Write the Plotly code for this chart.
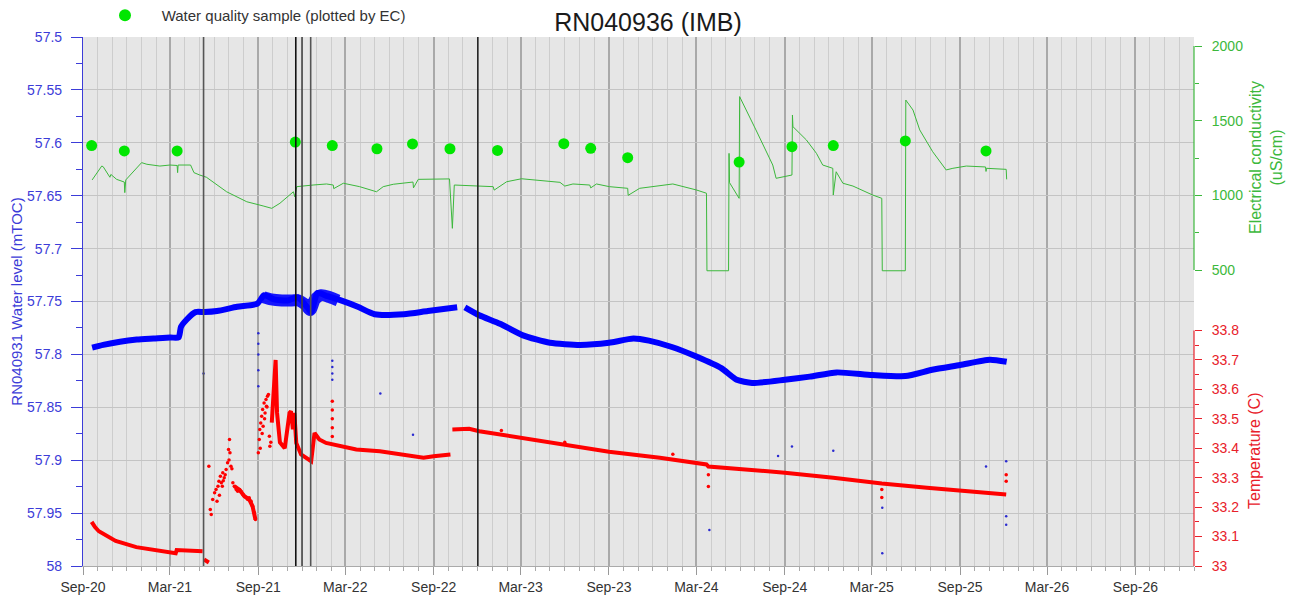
import plotly.graph_objects as go

# ---------------- data ----------------
# Water level (left axis, mTOC) - centre of the logged band
wl_dates = ["2020-09-20", "2020-10-13", "2020-11-17", "2020-12-22", "2021-01-26", "2021-03-02",
            "2021-03-19", "2021-03-24", "2021-04-05", "2021-04-23", "2021-05-12", "2021-06-07",
            "2021-07-19", "2021-08-30", "2021-09-13", "2021-10-04", "2021-11-01", "2021-11-22",
            "2021-12-13", "2021-12-20", "2022-01-02", "2022-01-23", "2022-02-20", "2022-03-27",
            "2022-05-01", "2022-07-01", "2022-08-20", "2022-10-20", "2022-10-28", "2022-11-05",
            "2022-12-05", "2023-01-17", "2023-03-06", "2023-05-01", "2023-07-03", "2023-09-01",
            "2023-10-22", "2023-11-23", "2024-01-10", "2024-03-01", "2024-04-22", "2024-05-24",
            "2024-06-25", "2024-09-01", "2024-10-23", "2024-12-18", "2025-03-02", "2025-05-10",
            "2025-07-05", "2025-09-01", "2025-11-02", "2025-12-07"]
wl_values = [57.7936, 57.791, 57.788, 57.786, 57.785, 57.784,
             57.784, 57.774, 57.767, 57.760, 57.760, 57.759,
             57.755, 57.752, 57.744, 57.748, 57.749, 57.746,
             57.756, 57.760, 57.742, 57.745, 57.749, 57.755,
             57.762, 57.762, 57.759, 57.7555, None, 57.7555,
             57.763, 57.771, 57.782, 57.789, 57.791, 57.789,
             57.785, 57.787, 57.793, 57.802, 57.813, 57.824,
             57.827, 57.824, 57.821, 57.817, 57.8195, 57.8205,
             57.8145, 57.810, 57.805, 57.807]

# noisier (wider) part of the water level band
wl_wide_dates = ["2021-09-12", "2021-09-28", "2021-10-20", "2021-11-10", "2021-11-24",
                 "2021-12-08", "2021-12-18", "2021-12-28", "2022-01-10", "2022-01-28", "2022-02-14"]
wl_wide_values = [57.746, 57.748, 57.749, 57.749, 57.749,
                  57.753, 57.758, 57.748, 57.744, 57.746, 57.749]

# stray water level readings
wl_out_dates = ["2021-09-01", "2021-09-01", "2021-09-01", "2021-09-01", "2021-09-01",
                "2022-02-02", "2022-02-02", "2022-02-02", "2022-02-02", "2022-05-13",
                "2022-07-20", "2024-08-18", "2024-09-16", "2024-12-11", "2025-03-23",
                "2025-03-23", "2024-03-28", "2025-10-25", "2025-12-06", "2025-12-06",
                "2025-12-06", "2021-05-10"]
wl_out_values = [57.78, 57.79, 57.80, 57.815, 57.83,
                 57.806, 57.812, 57.818, 57.824, 57.837,
                 57.876, 57.896, 57.887, 57.891, 57.945,
                 57.988, 57.966, 57.906, 57.901, 57.953,
                 57.961, 57.818]

# Electrical conductivity logger (uS/cm)
ec_dates = ["2020-09-20", "2020-10-10", "2020-10-13", "2020-10-24", "2020-10-27", "2020-10-29",
            "2020-11-10", "2020-11-26", "2020-11-27", "2020-11-29", "2021-01-01", "2021-01-12",
            "2021-02-08", "2021-03-01", "2021-03-16", "2021-03-17", "2021-03-18", "2021-04-13",
            "2021-04-20", "2021-05-02", "2021-05-16", "2021-06-27", "2021-08-08", "2021-09-11",
            "2021-09-29", "2021-10-16", "2021-11-13", "2021-11-16", "2021-11-20", "2021-12-24",
            "2022-01-21", "2022-02-04", "2022-02-05", "2022-02-25", "2022-03-31", "2022-05-05",
            "2022-05-19", "2022-06-09", "2022-07-20", "2022-07-21", "2022-07-31", "2022-10-04",
            "2022-10-10", "2022-10-14", "2022-12-02", "2023-01-03", "2023-01-05", "2023-01-31",
            "2023-03-03", "2023-03-27", "2023-05-22", "2023-06-01", "2023-06-18", "2023-07-23",
            "2023-07-25", "2023-08-06", "2023-09-02", "2023-10-10", "2023-10-11", "2023-11-04",
            "2024-01-12", "2024-03-01", "2024-03-22", "2024-03-23", "2024-05-07", "2024-05-08",
            "2024-05-09", "2024-05-29", "2024-05-30", "2024-07-03", "2024-08-07", "2024-08-14",
            "2024-09-04", "2024-09-16", "2024-09-17", "2024-09-18", "2024-10-16", "2024-11-06",
            "2024-11-19", "2024-12-10", "2024-12-11", "2024-12-17", "2024-12-31", "2025-01-21",
            "2025-03-03", "2025-03-22", "2025-03-23", "2025-05-10", "2025-05-11", "2025-05-26",
            "2025-06-09", "2025-07-06", "2025-08-03", "2025-08-17", "2025-09-14", "2025-10-24",
            "2025-10-25", "2025-10-26", "2025-12-06", "2025-12-07"]
ec_values = [1103, 1196, 1192, 1135, 1121, 1140,
             1107, 1089, 1018, 1103, 1219, 1208,
             1196, 1203, 1200, 1152, 1203, 1203,
             1152, 1136, 1121, 1024, 957, 929,
             913, 947, 1024, 990, 1058, 1069,
             1076, 1069, 1045, 1081, 1058, 1024,
             1058, 1074, 1089, 1050, 1107, 1110,
             779, 1069, 1065, 1058, 1035, 1091,
             1111, 1103, 1087, 1062, 1076, 1069,
             1050, 1076, 1058, 1047, 1000, 1047,
             1076, 1036, 1014, 495, 495, 1281,
             1085, 980, 1661, 1438, 1203, 1114,
             1125, 1136, 1538, 1460, 1371, 1281,
             1203, 1181, 1002, 1158, 1081, 1062,
             1002, 980, 495, 495, 1638, 1571,
             1438, 1292, 1170, 1181, 1196, 1190,
             1160, 1181, 1174, 1107]

# Water quality samples (EC of lab sample, uS/cm)
wq_dates = ["2020-09-19", "2020-11-26", "2021-03-16", "2021-11-17", "2022-02-02", "2022-05-06",
            "2022-07-19", "2022-10-05", "2023-01-12", "2023-05-30", "2023-07-25", "2023-10-10",
            "2024-05-29", "2024-09-16", "2024-12-11", "2025-05-10", "2025-10-25"]
wq_values = [1333, 1297, 1297, 1357, 1333, 1312,
             1344, 1312, 1301, 1346, 1315, 1252,
             1223, 1326, 1333, 1364, 1297]

# Temperature logger (C) - continuous parts
temp_dates = ["2020-09-19", "2020-09-26", "2020-10-04", "2020-11-08", "2020-12-21", "2021-02-02",
              "2021-03-13", "2021-03-15", "2021-05-08", "2021-05-09",
              "2021-05-11", "2021-05-16", "2021-05-21", "2021-05-22",
              "2021-07-13", "2021-07-24", "2021-08-03", "2021-08-13", "2021-08-20", "2021-08-26",
              "2021-08-27",
              "2021-09-29", "2021-10-04", "2021-10-07", "2021-10-10", "2021-10-16", "2021-10-26",
              "2021-11-05", "2021-11-08", "2021-11-12", "2021-11-15", "2021-11-19", "2021-11-29",
              "2021-12-09", "2021-12-20", "2021-12-27", "2022-01-06", "2022-01-20", "2022-02-03",
              "2022-02-17", "2022-03-24", "2022-05-12", "2022-06-16", "2022-07-21", "2022-08-11",
              "2022-09-01", "2022-10-06", "2022-10-08",
              "2022-10-10", "2022-11-14", "2022-12-05", "2023-01-16", "2023-05-26", "2023-09-01",
              "2023-12-16", "2024-03-22", "2024-03-26", "2024-09-01", "2024-12-11", "2025-03-22",
              "2025-06-24", "2025-10-25", "2025-12-06"]
temp_values = [33.150, 33.132, 33.118, 33.085, 33.064, 33.052,
               33.043, 33.054, 33.050, None,
               33.022, 33.015, 33.012, None,
               33.271, 33.258, 33.237, 33.226, 33.203, 33.158,
               None,
               33.487, 33.600, 33.700, 33.520, 33.420, 33.400,
               33.520, 33.526, 33.464, 33.520, 33.418, 33.379,
               33.367, 33.356, 33.452, 33.430, 33.418, 33.413,
               33.407, 33.396, 33.390, 33.382, 33.375, 33.368,
               33.373, 33.379, None,
               33.464, 33.466, 33.458, 33.447, 33.413, 33.388,
               33.368, 33.345, 33.338, 33.317, 33.300, 33.280,
               33.266, 33.251, 33.243]

# Temperature logger - scattered readings
temp_pt_dates = ["2021-05-21", "2021-05-24", "2021-05-26", "2021-05-29", "2021-06-02", "2021-06-05",
                 "2021-06-09", "2021-06-11", "2021-06-14", "2021-06-16", "2021-06-18", "2021-06-19",
                 "2021-06-22", "2021-06-26", "2021-06-29", "2021-07-01", "2021-07-03", "2021-07-04",
                 "2021-07-06", "2021-07-10", "2021-07-13", "2021-07-17", "2021-07-20", "2021-07-24",
                 "2021-07-27", "2021-07-31", "2021-08-03", "2021-08-07", "2021-08-10", "2021-08-13",
                 "2021-08-17", "2021-08-20", "2021-08-24", "2021-08-26",
                 "2021-06-07", "2021-06-12", "2021-06-20", "2021-06-24", "2021-07-02", "2021-07-08",
                 "2021-09-01", "2021-09-03", "2021-09-04", "2021-09-06", "2021-09-08", "2021-09-10",
                 "2021-09-11", "2021-09-13", "2021-09-15", "2021-09-17", "2021-09-18", "2021-09-20",
                 "2021-09-22", "2021-09-24", "2021-09-25", "2021-09-27", "2021-09-05", "2021-09-09",
                 "2021-09-14", "2021-09-19",
                 "2022-02-02", "2022-02-02", "2022-02-02", "2022-02-02", "2022-02-02",
                 "2024-03-26", "2024-03-26", "2025-03-22", "2025-03-22", "2025-12-06", "2025-12-06",
                 "2023-06-01", "2024-01-12", "2023-01-20"]
temp_pt_values = [33.339, 33.192, 33.175, 33.226, 33.249, 33.260,
                  33.271, 33.288, 33.305, 33.283, 33.271, 33.317,
                  33.300, 33.328, 33.351, 33.396, 33.430, 33.385,
                  33.339, 33.283, 33.271, 33.260, 33.254, 33.260,
                  33.254, 33.243, 33.237, 33.232, 33.226, 33.232,
                  33.220, 33.203, 33.181, 33.158,
                  33.22, 33.24, 33.29, 33.31, 33.36, 33.33,
                  33.385, 33.430, 33.464, 33.486, 33.509, 33.532,
                  33.475, 33.554, 33.520, 33.566, 33.543, 33.577,
                  33.583, 33.441, 33.407, 33.420, 33.400, 33.450,
                  33.500, 33.540,
                  33.440, 33.470, 33.500, 33.530, 33.560,
                  33.270, 33.310, 33.233, 33.260, 33.288, 33.310,
                  33.420, 33.380, 33.460]

# Logger / site events (vertical lines)
event_dates = ["2021-05-10", "2021-11-18", "2021-12-01", "2021-12-19", "2022-12-02"]
event_colors = ["#555555", "#111111", "#444444", "#555555", "#222222"]

wl_ticks = [57.5, 57.55, 57.6, 57.65, 57.7, 57.75, 57.8, 57.85, 57.9, 57.95, 58.0]
wl_tick_text = ["57.5", "57.55", "57.6", "57.65", "57.7", "57.75", "57.8", "57.85", "57.9", "57.95", "58"]
ec_ticks = [500, 1000, 1500, 2000]
ec_minor = [750, 1250, 1750]
temp_ticks = [33.0, 33.1, 33.2, 33.3, 33.4, 33.5, 33.6, 33.7, 33.8]
temp_tick_text = ["33", "33.1", "33.2", "33.3", "33.4", "33.5", "33.6", "33.7", "33.8"]
temp_minor = [33.05, 33.15, 33.25, 33.35, 33.45, 33.55, 33.65, 33.75]

# ---------------- styling ----------------
FONT = "Arial, Liberation Sans, sans-serif"
BLUE = "#0000ff"
BLUE_AX = "#3c3cd8"
EC_GREEN = "#3cb83c"
WQ_GREEN = "#00e600"
RED = "#ff0000"
RED_AX = "#e8202a"

# page body adds an 8px offset; plot area in figure pixels
OFF = 8
W, H = 1296, 601
PL, PR, PT, PB = 83 - OFF, 1194 - OFF, 37 - OFF, 566 - OFF
PW, PH = PR - PL, PB - PT


def px_x(sx):
    return (sx - OFF - PL) / PW


def px_y(sy):
    return (PB - (sy - OFF)) / PH


fig = go.Figure()

fig.add_trace(go.Scatter(x=wl_dates, y=wl_values, mode="lines", yaxis="y",
                         line=dict(color=BLUE, width=6, shape="spline", smoothing=0.6),
                         connectgaps=False, showlegend=False, hoverinfo="skip"))
fig.add_trace(go.Scatter(x=wl_wide_dates, y=wl_wide_values, mode="lines", yaxis="y",
                         line=dict(color=BLUE, width=12, shape="spline", smoothing=0.8),
                         opacity=0.9, showlegend=False, hoverinfo="skip"))
fig.add_trace(go.Scatter(x=wl_out_dates, y=wl_out_values, mode="markers", yaxis="y",
                         marker=dict(color="#2a2ad0", size=2.5), showlegend=False, hoverinfo="skip"))

fig.add_trace(go.Scatter(x=temp_dates, y=temp_values, mode="lines", yaxis="y3",
                         line=dict(color=RED, width=4), connectgaps=False,
                         showlegend=False, hoverinfo="skip"))
fig.add_trace(go.Scatter(x=temp_pt_dates, y=temp_pt_values, mode="markers", yaxis="y3",
                         marker=dict(color=RED, size=3.5), showlegend=False, hoverinfo="skip"))

fig.add_trace(go.Scatter(x=ec_dates, y=ec_values, mode="lines", yaxis="y2",
                         line=dict(color=EC_GREEN, width=1), showlegend=False, hoverinfo="skip"))
fig.add_trace(go.Scatter(x=wq_dates, y=wq_values, mode="markers", yaxis="y2",
                         marker=dict(color=WQ_GREEN, size=11),
                         name="\u00a0\u00a0\u00a0\u00a0Water quality sample (plotted by EC)",
                         showlegend=True))

shapes = []
for d, c in zip(event_dates, event_colors):
    shapes.append(dict(type="line", xref="x", yref="paper", x0=d, x1=d, y0=0, y1=1,
                       line=dict(color=c, width=1.6), layer="above"))
# right-hand axis lines covering only the labelled span
shapes.append(dict(type="line", xref="paper", yref="y2", x0=1, x1=1,
                   y0=ec_ticks[0], y1=ec_ticks[-1], line=dict(color=EC_GREEN, width=1.2)))
shapes.append(dict(type="line", xref="paper", yref="y3", x0=1, x1=1,
                   y0=temp_ticks[0], y1=temp_ticks[-1], line=dict(color=RED_AX, width=1.2)))

fig.update_layout(
    width=W, height=H,
    margin=dict(l=PL, r=W - PR, t=PT, b=H - PB, autoexpand=False),
    paper_bgcolor="white", plot_bgcolor="#e6e6e6",
    font=dict(family=FONT, size=14, color="#333333"),
    title=dict(text="RN040936 (IMB)", x=(648 - OFF) / W, xref="container", xanchor="center",
               y=1 - (22 - OFF) / H, yref="container", yanchor="middle",
               font=dict(family=FONT, size=25, color="#1a1a1a")),
    showlegend=True,
    legend=dict(x=px_x(105), xanchor="left", y=px_y(-1), yanchor="top",
                bgcolor="rgba(0,0,0,0)", font=dict(family=FONT, size=15, color="#333333"),
                itemsizing="constant"),
    xaxis=dict(
        type="date", range=["2020-09-01", "2027-01-01"],
        tick0="2020-09-01", dtick="M6", tickformat="%b-%y",
        showgrid=True, gridcolor="#a9a9a9", gridwidth=1.5,
        ticks="outside", ticklen=8, tickcolor="#999999",
        showline=True, linecolor="#aaaaaa", linewidth=1,
        tickfont=dict(family=FONT, size=14, color="#333333"),
        zeroline=False,
        minor=dict(dtick="M1", tick0="2020-09-01", showgrid=True, gridcolor="#cdcdcd",
                   gridwidth=1, ticks="outside", ticklen=4, tickcolor="#aaaaaa"),
    ),
    yaxis=dict(
        range=[58.0, 57.5], tickvals=wl_ticks, ticktext=wl_tick_text,
        showgrid=True, gridcolor="#c4c4c4", gridwidth=1,
        ticks="outside", ticklen=11, tickcolor=BLUE_AX,
        showline=True, linecolor=BLUE_AX, linewidth=1.2,
        tickfont=dict(family=FONT, size=14, color=BLUE_AX),
        ticklabelstandoff=6,
        zeroline=False,
        title=dict(text="RN040931 Water level (mTOC)", standoff=10,
                   font=dict(family=FONT, size=15, color=BLUE_AX)),
        minor=dict(tickvals=[v + 0.025 for v in wl_ticks[:-1]], ticks="outside",
                   ticklen=6, tickcolor=BLUE_AX, showgrid=False),
    ),
    yaxis2=dict(
        overlaying="y", side="right", anchor="x",
        range=[500 - 296 * 1500 / 224, 2000 + 9 * 1500 / 224],
        tickvals=ec_ticks, ticks="outside", ticklen=7, tickcolor=EC_GREEN,
        showgrid=False, zeroline=False, showline=False,
        tickfont=dict(family=FONT, size=14, color=EC_GREEN),
        ticklabelstandoff=7,
        minor=dict(tickvals=ec_minor, ticks="outside", ticklen=4, tickcolor=EC_GREEN,
                   showgrid=False),
    ),
    yaxis3=dict(
        overlaying="y", side="right", anchor="x",
        range=[33.0, 33.0 + 0.8 * 529 / 235.5],
        tickvals=temp_ticks, ticktext=temp_tick_text,
        ticks="outside", ticklen=7, tickcolor=RED_AX,
        showgrid=False, zeroline=False, showline=False,
        tickfont=dict(family=FONT, size=14, color=RED_AX),
        ticklabelstandoff=7,
        minor=dict(tickvals=temp_minor, ticks="outside", ticklen=4, tickcolor=RED_AX,
                   showgrid=False),
    ),
    shapes=shapes,
    annotations=[
        dict(text="Electrical conductivity<br>(uS/cm)", xref="paper", yref="paper",
             x=px_x(1266), y=px_y(158), textangle=-90, showarrow=False,
             xanchor="center", yanchor="middle",
             font=dict(family=FONT, size=16, color=EC_GREEN)),
        dict(text="Temperature (C)", xref="paper", yref="paper",
             x=px_x(1254), y=px_y(451), textangle=-90, showarrow=False,
             xanchor="center", yanchor="middle",
             font=dict(family=FONT, size=16, color=RED_AX)),
    ],
)

fig.write_html("out.html")
